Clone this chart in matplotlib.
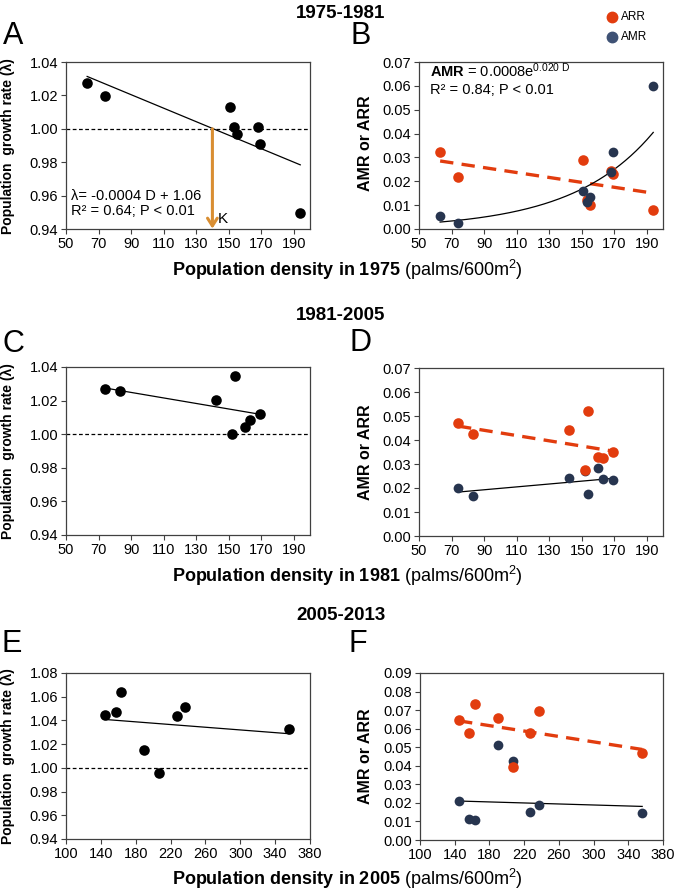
import matplotlib
matplotlib.use("Agg")
import matplotlib.pyplot as plt
from matplotlib.lines import Line2D
import numpy as np

plt.rcParams['font.family'] = ['Liberation Sans', 'DejaVu Sans']
plt.rcParams['mathtext.fontset'] = 'custom'
plt.rcParams['mathtext.rm'] = 'Liberation Sans'
plt.rcParams['mathtext.it'] = 'Liberation Sans:italic'
plt.rcParams['mathtext.bf'] = 'Liberation Sans:bold'

# ---------------- data ----------------
# 1975-1981
dens_1975 = [63, 74, 151, 153, 155, 168, 169, 194]
lam_7581 = [1.0272, 1.0194, 1.0129, 1.0009, 0.9967, 1.0009, 0.9909, 0.9494]
arr_7581 = [0.0323, 0.0216, 0.0289, 0.0122, 0.0100, 0.0245, 0.0230, 0.0079]
amr_7581 = [0.0053, 0.0024, 0.0161, 0.0114, 0.0134, 0.0238, 0.0321, 0.0600]
lam_fit_7581 = (-0.000404, 1.0568)      # slope, intercept
arr_fit_7581 = (-0.000103, 0.0350)
amr_exp_7581 = (0.00082, 0.0201)        # a, b in a*exp(b*D)
K_7581 = 140

# 1981-2005
dens_1981 = [74, 83, 142, 154, 152, 160, 163, 169]
lam_8105 = [1.0271, 1.0260, 1.0204, 1.0349, 1.0000, 1.0044, 1.0087, 1.0119]
arr_8105 = [0.0469, 0.0425, 0.0443, 0.0520, 0.0273, 0.0331, 0.0323, 0.0349]
amr_8105 = [0.0198, 0.0166, 0.0240, 0.0176, 0.0272, 0.0285, 0.0236, 0.0232]
lam_fit_8105 = (-0.0001642, 1.03965)
arr_fit_8105 = (-0.0001095, 0.0539)
amr_fit_8105 = (0.00006, 0.01386)

# 2005-2013
dens_2005 = [145, 157, 163, 190, 207, 227, 237, 356]
lam_0513 = [1.0444, 1.0468, 1.0638, 1.0150, 0.9960, 1.0438, 1.0514, 1.0330]
arr_0513 = [0.0649, 0.0579, 0.0731, 0.0660, 0.0391, 0.0579, 0.0696, 0.0471]
amr_0513 = [0.0212, 0.0113, 0.0109, 0.0511, 0.0427, 0.0151, 0.0188, 0.0147]
lam_fit_0513 = (-0.0000569, 1.04905)
arr_fit_0513 = (-0.0000730, 0.07478)
amr_fit_0513 = (-0.00001374, 0.02299)

xticks_ab = [50, 70, 90, 110, 130, 150, 170, 190]
xticks_ef = [100, 140, 180, 220, 260, 300, 340, 380]

RED = '#E23C0E'
NAVY = '#27354F'
ORANGE = '#D98E32'
SPINE = '#404040'

W, H = 677, 892
fig = plt.figure(figsize=(W / 100, H / 100), dpi=100)


def px_axes(l, t, r, b):
    return fig.add_axes([l / W, 1 - b / H, (r - l) / W, (b - t) / H])


def style(ax, xlim, xticks, ylim, yticks):
    ax.set_xlim(*xlim)
    ax.set_ylim(*ylim)
    ax.set_xticks(xticks)
    ax.set_yticks(yticks)
    ax.set_yticklabels([f"{v:.2f}" for v in yticks])
    ax.tick_params(direction='out', length=3.5, width=0.8, color=SPINE,
                   labelsize=10.5, pad=2)
    for s in ax.spines.values():
        s.set_color(SPINE)
        s.set_linewidth(0.9)


def fig_text(x, y, s, **kw):
    fig.text(x / W, 1 - y / H, s, **kw)


MS = 58

# ---- Panel A ----
axA = px_axes(66, 62, 310, 229)
style(axA, (50, 200), xticks_ab, (0.94, 1.04), np.arange(0.94, 1.041, 0.02))
axA.axhline(1.0, color='k', lw=0.9, ls=(0, (3, 2)), zorder=1)
xx = np.array([dens_1975[0], dens_1975[-1]])
axA.plot(xx, lam_fit_7581[0] * xx + lam_fit_7581[1], color='k', lw=0.9, zorder=2)
axA.scatter(dens_1975, lam_7581, s=MS, color='k', zorder=3, linewidths=0)
axA.annotate('', xy=(K_7581, 0.9402), xytext=(K_7581, 1.0),
             arrowprops=dict(arrowstyle='->,head_length=0.55,head_width=0.35',
                             lw=2.2, color=ORANGE, shrinkA=0, shrinkB=0),
             annotation_clip=False, zorder=4)
axA.text(K_7581 + 3, 0.9415, 'K', fontsize=11, ha='left', va='bottom')
axA.text(53, 0.9555, 'λ= -0.0004 D + 1.06', fontsize=10.5, ha='left', va='bottom')
axA.text(53, 0.9467, 'R² = 0.64; P < 0.01', fontsize=10.5, ha='left', va='bottom')

# ---- Panel B ----
axB = px_axes(419, 62, 663, 229)
style(axB, (50, 200), xticks_ab, (0.0, 0.07), np.arange(0, 0.071, 0.01))
axB.plot(xx, arr_fit_7581[0] * xx + arr_fit_7581[1], color=RED, lw=2.4,
         ls=(0, (4, 2.5)), zorder=2)
xc = np.linspace(dens_1975[0], dens_1975[-1], 200)
axB.plot(xc, amr_exp_7581[0] * np.exp(amr_exp_7581[1] * xc), color='k', lw=0.9, zorder=2)
axB.scatter(dens_1975, arr_7581, s=MS, color=RED, zorder=3, linewidths=0)
axB.scatter(dens_1975, amr_7581, s=MS * 0.85, color=NAVY, zorder=4, linewidths=0)
axB.text(56.5, 0.0625, r'$\mathbf{AMR}$ = 0.0008e$^{0.020\ \mathrm{D}}$',
         fontsize=10.5, ha='left', va='bottom')
axB.text(56.5, 0.0555, 'R² = 0.84; P < 0.01', fontsize=10.5, ha='left', va='bottom')

# ---- Panel C ----
axC = px_axes(66, 367, 310, 535)
style(axC, (50, 200), xticks_ab, (0.94, 1.04), np.arange(0.94, 1.041, 0.02))
axC.axhline(1.0, color='k', lw=0.9, ls=(0, (3, 2)), zorder=1)
xx = np.array([dens_1981[0], dens_1981[-1]])
axC.plot(xx, lam_fit_8105[0] * xx + lam_fit_8105[1], color='k', lw=0.9, zorder=2)
axC.scatter(dens_1981, lam_8105, s=MS, color='k', zorder=3, linewidths=0)

# ---- Panel D ----
axD = px_axes(419, 368, 663, 536)
style(axD, (50, 200), xticks_ab, (0.0, 0.07), np.arange(0, 0.071, 0.01))
axD.plot(xx, arr_fit_8105[0] * xx + arr_fit_8105[1], color=RED, lw=2.4,
         ls=(0, (4, 2.5)), zorder=2)
axD.plot(xx, amr_fit_8105[0] * xx + amr_fit_8105[1], color='k', lw=0.9, zorder=2)
axD.scatter(dens_1981, amr_8105, s=MS * 0.85, color=NAVY, zorder=3, linewidths=0)
axD.scatter(dens_1981, arr_8105, s=MS, color=RED, zorder=4, linewidths=0)

# ---- Panel E ----
axE = px_axes(66, 673, 310, 839)
style(axE, (100, 380), xticks_ef, (0.94, 1.08), np.arange(0.94, 1.081, 0.02))
axE.axhline(1.0, color='k', lw=0.9, ls=(0, (3, 2)), zorder=1)
xx = np.array([dens_2005[0], dens_2005[-1]])
axE.plot(xx, lam_fit_0513[0] * xx + lam_fit_0513[1], color='k', lw=0.9, zorder=2)
axE.scatter(dens_2005, lam_0513, s=MS, color='k', zorder=3, linewidths=0)

# ---- Panel F ----
axF = px_axes(420, 673, 663, 840)
style(axF, (100, 380), xticks_ef, (0.0, 0.09), np.arange(0, 0.091, 0.01))
axF.plot(xx, arr_fit_0513[0] * xx + arr_fit_0513[1], color=RED, lw=2.4,
         ls=(0, (4, 2.5)), zorder=2)
axF.plot(xx, amr_fit_0513[0] * xx + amr_fit_0513[1], color='k', lw=0.9, zorder=2)
axF.scatter(dens_2005, amr_0513, s=MS * 0.85, color=NAVY, zorder=3, linewidths=0)
axF.scatter(dens_2005, arr_0513, s=MS, color=RED, zorder=4, linewidths=0)

# ---- titles, letters, labels ----
for y, t in [(13, '1975-1981'), (316, '1981-2005'), (616, '2005-2013')]:
    fig_text(341, y, t, fontsize=13.5, fontweight='bold', ha='center', va='center')

for x, y, l in [(13, 36, 'A'), (361, 36, 'B'), (13, 344, 'C'), (361, 343, 'D'),
                (12, 644, 'E'), (358, 644, 'F')]:
    fig_text(x, y, l, fontsize=22, ha='center', va='center')

for y, yr in [(270, '1975'), (576, '1981'), (879, '2005')]:
    fig_text(347, y, r'$\mathbf{Population\ density\ in\ ' + yr + r'}$ (palms/600m$^{2}$)',
             fontsize=13, ha='center', va='center')

for y in [146, 451, 756]:
    fig_text(8, y, 'Population  growth rate (λ)', fontsize=10, fontweight='bold',
             rotation=90, ha='center', va='center')
for y in [143, 452, 756]:
    fig_text(365, y, 'AMR or ARR', fontsize=11.5, fontweight='bold',
             rotation=90, ha='center', va='center')

# legend
for yy, c, lab in [(17, RED, 'ARR'), (37, '#3F5275', 'AMR')]:
    fig.add_artist(Line2D([612 / W], [1 - yy / H], marker='o', markersize=7.5,
                          color=c, linestyle='none', transform=fig.transFigure))
    fig_text(621, yy, lab, fontsize=8.5, ha='left', va='center')

fig.savefig('out.png', dpi=100)
